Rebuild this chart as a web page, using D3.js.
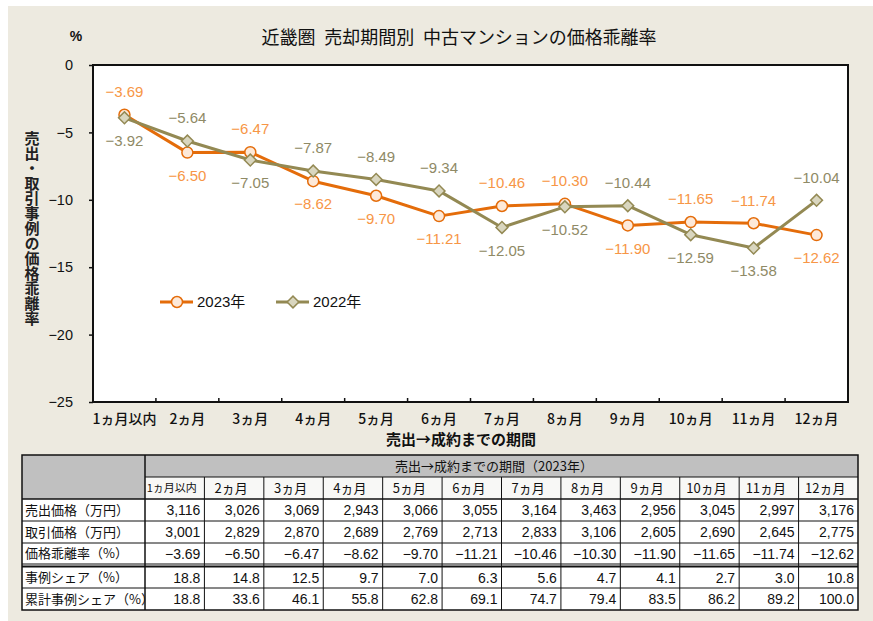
<!DOCTYPE html>
<html><head><meta charset="utf-8">
<script src="https://cdn.jsdelivr.net/npm/d3@7"></script>
<style>
html,body{margin:0;padding:0;background:#fff;}
svg{display:block;}
text{font-family:"Liberation Sans","Noto Sans CJK JP",sans-serif;}
.jp{font-family:"Noto Sans CJK JP","Liberation Sans",sans-serif;}
.num{font-family:"Liberation Sans Narrow","Liberation Sans",sans-serif;}
</style></head><body>
<script>
// ---- data ----
const categories = ["1ヵ月以内","2ヵ月","3ヵ月","4ヵ月","5ヵ月","6ヵ月","7ヵ月","8ヵ月","9ヵ月","10ヵ月","11ヵ月","12ヵ月"];
const series2023 = [-3.69,-6.50,-6.47,-8.62,-9.70,-11.21,-10.46,-10.30,-11.90,-11.65,-11.74,-12.62];
const series2022 = [-3.92,-5.64,-7.05,-7.87,-8.49,-9.34,-12.05,-10.52,-10.44,-12.59,-13.58,-10.04];
const labelSide2023 = ["up","down","up","down","down","down","up","up","down","up","up","down"];
const labelSide2022 = ["down","up","down","up","up","up","down","down","up","down","down","up"];
const yTicks = [0,-5,-10,-15,-20,-25];
const seriesNames = ["2023年","2022年"];
const rowLabels = ["売出価格（万円）","取引価格（万円）","価格乖離率（%）","事例シェア（%）","累計事例シェア（%）"];
const askPrice = ["3,116","3,026","3,069","2,943","3,066","3,055","3,164","3,463","2,956","3,045","2,997","3,176"];
const dealPrice = ["3,001","2,829","2,870","2,689","2,769","2,713","2,833","3,106","2,605","2,690","2,645","2,775"];
const gapRate = ["−3.69","−6.50","−6.47","−8.62","−9.70","−11.21","−10.46","−10.30","−11.90","−11.65","−11.74","−12.62"];
const caseShare = ["18.8","14.8","12.5","9.7","7.0","6.3","5.6","4.7","4.1","2.7","3.0","10.8"];
const cumShare = ["18.8","33.6","46.1","55.8","62.8","69.1","74.7","79.4","83.5","86.2","89.2","100.0"];

const W = 873, H = 621;
const svg = d3.select("body").append("svg").attr("width", W).attr("height", H);
svg.append("rect").attr("x",8).attr("y",6).attr("width",W-8).attr("height",H-6).attr("fill","#EDEAE0");

const P = {l:93, t:65, r:848, b:402};
const x = d3.scaleBand().domain(categories).range([P.l, P.r]);
const y = d3.scaleLinear().domain([-25,0]).range([P.b, P.t]);
const fmt = v => (v<0?"−":"") + Math.abs(v).toFixed(2);

// plot area
svg.append("rect").attr("x",P.l).attr("y",P.t).attr("width",P.r-P.l).attr("height",P.b-P.t)
  .attr("fill","#fff").attr("stroke","#111").attr("stroke-width",2);

// y axis
const yAxis = d3.axisLeft(y).tickValues(yTicks).tickSize(4).tickPadding(6)
  .tickFormat(v => v===0 ? "0" : "−"+Math.abs(v));
const ya = svg.append("g").attr("transform",`translate(${P.l},0)`).call(yAxis);
ya.select(".domain").remove();
ya.selectAll("line").attr("stroke","#111").attr("stroke-width",1.5);
ya.selectAll("text").attr("font-size",14.5).attr("fill","#111").attr("x",-20)
  .style("font-family",'"Liberation Sans",sans-serif');

// x axis
const xAxis = d3.axisBottom(x).tickSize(0).tickPadding(12);
const xa = svg.append("g").attr("transform",`translate(0,${P.b})`).call(xAxis);
xa.select(".domain").remove();
xa.selectAll("text").attr("font-size",14).attr("fill","#111").attr("class","jp").attr("font-weight",500);
svg.append("g").selectAll("line").data(categories.slice(1)).join("line")
  .attr("x1",d=>x(d)).attr("x2",d=>x(d)).attr("y1",P.b).attr("y2",P.b-4)
  .attr("stroke","#111").attr("stroke-width",1.5);

// titles
svg.append("text").attr("class","jp").attr("x",459).attr("y",44).attr("text-anchor","middle")
  .attr("font-size",18).attr("fill","#111").attr("textLength",395).attr("lengthAdjust","spacing")
  .text("近畿圏\u2002売却期間別\u2002中古マンションの価格乖離率");
svg.append("text").attr("x",76).attr("y",41).attr("text-anchor","middle").attr("font-size",14)
  .attr("font-weight","bold").attr("fill","#111").text("%");
svg.append("text").attr("class","jp").attr("x",32).attr("y",131)
  .attr("font-size",15).attr("font-weight","bold").attr("fill","#222")
  .style("writing-mode","vertical-rl").style("text-orientation","upright")
  .text("売出・取引事例の価格乖離率");
svg.append("text").attr("class","jp").attr("x",461).attr("y",445).attr("text-anchor","middle")
  .attr("font-size",15).attr("font-weight","bold").attr("fill","#111").text("売出→成約までの期間");

const cx = d => x(d) + x.bandwidth()/2;
const c23 = {line:"#E46C0A", fill:"#FDE9D9", label:"#F79646"};
const c22 = {line:"#938953", fill:"#D9D6BF", label:"#8F8A66"};

function drawSeries(vals, col, marker, sides){
  const pts = categories.map((c,i)=>[cx(c), y(vals[i])]);
  svg.append("path").attr("d", d3.line()(pts)).attr("fill","none")
    .attr("stroke",col.line).attr("stroke-width",3).attr("stroke-linejoin","round");
  const g = svg.append("g");
  pts.forEach((p,i)=>{
    if(marker==="circle"){
      g.append("circle").attr("cx",p[0]).attr("cy",p[1]).attr("r",5.5)
        .attr("fill",col.fill).attr("stroke",col.line).attr("stroke-width",1.5);
    } else {
      g.append("path").attr("d", d3.symbol().type(d3.symbolSquare).size(70)())
        .attr("transform",`translate(${p[0]},${p[1]}) rotate(45)`)
        .attr("fill",col.fill).attr("stroke",col.line).attr("stroke-width",1.5);
    }
    svg.append("text").attr("class","num").attr("x",p[0]).attr("y",p[1] + (sides[i]==="up"?-23:23))
      .attr("dy","0.35em").attr("text-anchor","middle").attr("font-size",15)
      .attr("fill",col.label).text(fmt(vals[i]));
  });
}
drawSeries(series2023, c23, "circle", labelSide2023);
drawSeries(series2022, c22, "diamond", labelSide2022);

// legend
const legend = [{name:seriesNames[0], col:c23, m:"circle", x0:160},{name:seriesNames[1], col:c22, m:"diamond", x0:276}];
legend.forEach(L=>{
  const ly = 302;
  svg.append("line").attr("x1",L.x0).attr("x2",L.x0+33).attr("y1",ly).attr("y2",ly)
    .attr("stroke",L.col.line).attr("stroke-width",3);
  if(L.m==="circle"){
    svg.append("circle").attr("cx",L.x0+17).attr("cy",ly).attr("r",5.5)
      .attr("fill",L.col.fill).attr("stroke",L.col.line).attr("stroke-width",1.5);
  } else {
    svg.append("path").attr("d", d3.symbol().type(d3.symbolSquare).size(70)())
      .attr("transform",`translate(${L.x0+17},${ly}) rotate(45)`)
      .attr("fill",L.col.fill).attr("stroke",L.col.line).attr("stroke-width",1.5);
  }
  svg.append("text").attr("x",L.x0+37).attr("y",ly).attr("dy","0.36em").attr("font-size",15)
    .attr("fill","#111").text(L.name);
});

// ---- table ----
const T = {l:22, r:858, c0:145};
const colX = d3.scaleBand().domain(categories).range([T.c0, T.r]);
const rowY = [499,521,543,567,588];
const rowH = [22,22,21,21,22];
const tbl = svg.append("g");
tbl.append("rect").attr("x",T.l).attr("y",455).attr("width",T.c0-T.l).attr("height",44).attr("fill","#C0C0C0");
tbl.append("rect").attr("x",T.c0).attr("y",455).attr("width",T.r-T.c0).attr("height",22).attr("fill","#C0C0C0");
tbl.append("rect").attr("x",T.c0).attr("y",477).attr("width",T.r-T.c0).attr("height",22).attr("fill","#F8F8F6");
tbl.append("rect").attr("x",T.l).attr("y",499).attr("width",T.r-T.l).attr("height",111).attr("fill","#fff");
tbl.append("text").attr("class","jp").attr("x",494).attr("y",466).attr("dy","0.36em").attr("text-anchor","middle")
  .attr("font-size",13).attr("fill","#111").text("売出→成約までの期間（2023年）");
categories.forEach((c,i)=>{
  tbl.append("text").attr("class","jp").attr("x",colX(c)+colX.bandwidth()/2-3).attr("y",488).attr("dy","0.36em")
    .attr("text-anchor","middle").attr("font-size", i===0?11:13).attr("fill","#111").text(c);
});
const rows = [askPrice, dealPrice, gapRate, caseShare, cumShare];
rows.forEach((r,ri)=>{
  const yc = rowY[ri] + rowH[ri]/2;
  tbl.append("text").attr("class","jp").attr("x",T.l+3).attr("y",yc).attr("dy","0.36em")
    .attr("font-size",13).attr("fill","#111").text(rowLabels[ri]);
  r.forEach((v,ci)=>{
    tbl.append("text").attr("x",colX(categories[ci])+colX.bandwidth()-4).attr("y",yc).attr("dy","0.36em")
      .attr("text-anchor","end").attr("font-size",14).attr("fill","#111").text(v);
  });
});
const hl = (yy,x1,x2,w)=>tbl.append("line").attr("x1",x1).attr("x2",x2).attr("y1",yy).attr("y2",yy).attr("stroke","#111").attr("stroke-width",w);
const vl = (xx,y1,y2,w)=>tbl.append("line").attr("x1",xx).attr("x2",xx).attr("y1",y1).attr("y2",y2).attr("stroke","#111").attr("stroke-width",w);
hl(477,T.c0,T.r,1); hl(499,T.l,T.r,1.5); hl(521,T.l,T.r,1); hl(543,T.l,T.r,1);
hl(564,T.l,T.r,1); hl(566.5,T.l,T.r,2); hl(588,T.l,T.r,1);
vl(T.c0,455,610,1.5);
categories.slice(1).forEach(c=>vl(colX(c),477,610,1));
tbl.append("rect").attr("x",T.l).attr("y",455).attr("width",T.r-T.l).attr("height",155)
  .attr("fill","none").attr("stroke","#111").attr("stroke-width",1.5);
</script>
</body></html>
